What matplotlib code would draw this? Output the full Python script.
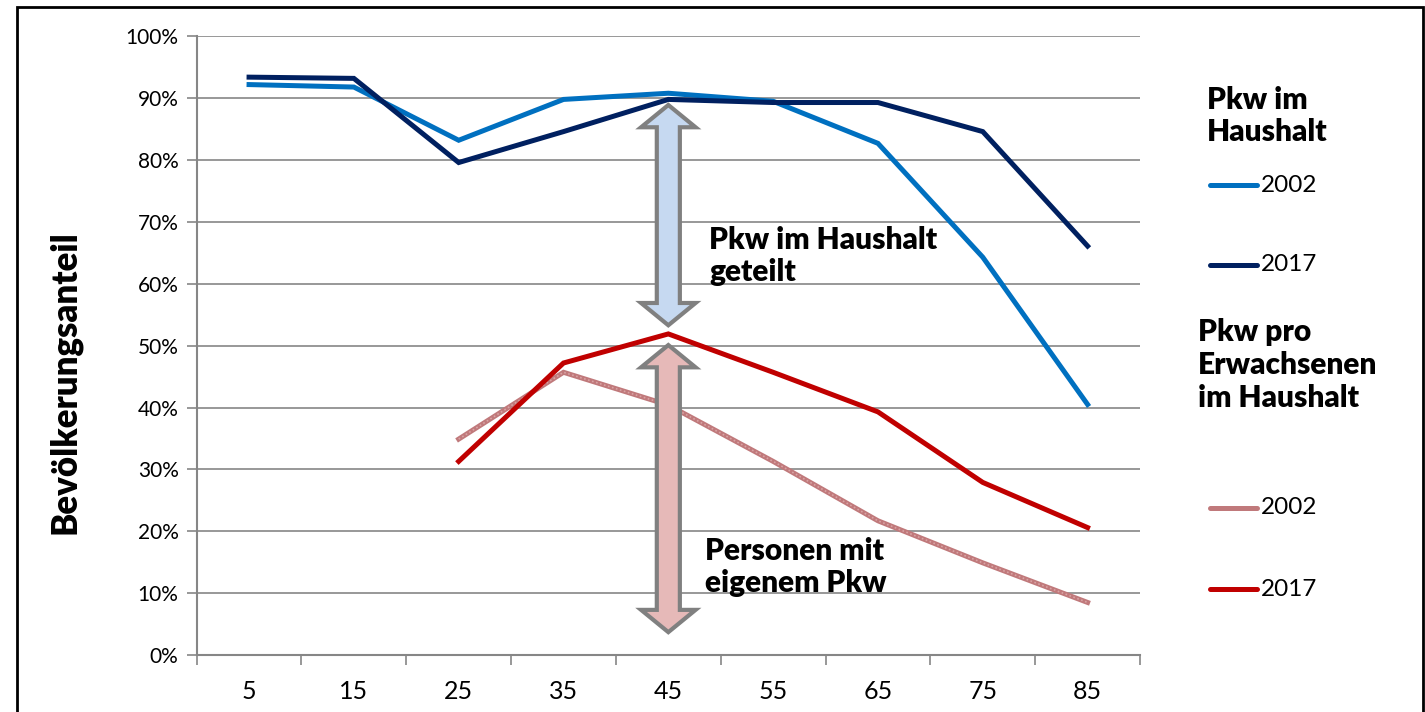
import numpy as np
import matplotlib
matplotlib.use('Agg')
import matplotlib.pyplot as plt
from matplotlib.lines import Line2D
from matplotlib.patches import Polygon, Rectangle
from matplotlib.ticker import FixedLocator, PercentFormatter

plt.rcParams['font.family'] = ['Lato', 'DejaVu Sans']

# age groups (class centres)
ages = ['5', '15', '25', '35', '45', '55', '65', '75', '85']

# Pkw im Haushalt
hh_2002 = [92.2, 91.8, 83.2, 89.8, 90.8, 89.5, 82.7, 64.3, 40.5]
hh_2017 = [93.4, 93.2, 79.6, 84.6, 89.8, 89.3, 89.3, 84.6, 66.1]
# Pkw pro Erwachsenen im Haushalt (from age 25 on)
pp_2002 = [np.nan, np.nan, 34.9, 45.7, 40.4, 31.3, 21.7, 14.9, 8.5]
pp_2017 = [np.nan, np.nan, 31.3, 47.2, 51.9, 45.7, 39.3, 27.9, 20.6]

c_hh02 = '#0070c0'
c_hh17 = '#002060'
c_pp02 = '#c0797b'
c_pp17 = '#c00000'
grid_c = '#868686'
bold = 'heavy'

fig = plt.figure(figsize=(14.25, 7.12), dpi=100)
ax = fig.add_axes([0.138, 0.080, 0.662, 0.869])

x = np.arange(len(ages))
ax.plot(x, hh_2002, color=c_hh02, lw=3.6, solid_joinstyle='miter', zorder=3)
ax.plot(x, hh_2017, color=c_hh17, lw=3.6, solid_joinstyle='miter', zorder=3)
ax.plot(x, pp_2002, color=c_pp02, lw=3.6, solid_joinstyle='miter', zorder=3)
ax.plot(x, pp_2002, color='#d9a3a4', lw=1.2, ls=(0, (1, 1.5)), zorder=3)
ax.plot(x, pp_2017, color=c_pp17, lw=3.6, solid_joinstyle='miter', zorder=3)

ax.set_xlim(-0.5, len(ages) - 0.5)
ax.set_ylim(0, 100)
ax.set_xticks(x)
ax.set_xticklabels(ages)
ax.xaxis.set_minor_locator(FixedLocator(np.arange(-0.5, len(ages), 1)))
ax.tick_params(axis='x', which='major', length=0, pad=18, labelsize=18)
ax.tick_params(axis='x', which='minor', length=7, width=1.2, color=grid_c, direction='out')
ax.set_yticks(np.arange(0, 101, 10))
ax.yaxis.set_major_formatter(PercentFormatter(decimals=0))
ax.tick_params(axis='y', length=7, width=1.2, color=grid_c, labelsize=15, pad=6)
ax.grid(axis='y', color=grid_c, lw=1.2)
ax.set_axisbelow(True)
for s in ['top', 'right']:
    ax.spines[s].set_visible(False)
for s in ['left', 'bottom']:
    ax.spines[s].set_color(grid_c)
    ax.spines[s].set_linewidth(1.5)
ax.set_ylabel('Bevölkerungsanteil', fontsize=25, fontweight=bold)
ax.yaxis.set_label_coords(-0.122, 0.441)


def double_arrow(xc, y0, y1, face):
    sw, hw, hl = 0.11, 0.26, 3.6
    pts = [(xc, y1), (xc + hw, y1 - hl), (xc + sw, y1 - hl), (xc + sw, y0 + hl),
           (xc + hw, y0 + hl), (xc, y0), (xc - hw, y0 + hl), (xc - sw, y0 + hl),
           (xc - sw, y1 - hl), (xc - hw, y1 - hl)]
    ax.add_patch(Polygon(pts, closed=True, facecolor=face, edgecolor='#808080',
                         lw=3, joinstyle='miter', zorder=4))


double_arrow(4, 53.3, 88.9, '#c6d9f1')
double_arrow(4, 3.7, 50.1, '#e6b9b8')
ax.text(4.39, 64.5, 'Pkw im Haushalt\ngeteilt', fontsize=21.5, fontweight=bold,
        va='center', ha='left', linespacing=1.2, zorder=5)
ax.text(4.35, 14.2, 'Personen mit\neigenem Pkw', fontsize=21.5, fontweight=bold,
        va='center', ha='left', linespacing=1.2, zorder=5)

# legend drawn manually at the right
W, H = 1425, 712


def fx(px):
    return px / W


def fy(py):
    return 1 - py / H


fig.text(fx(1207), fy(116), 'Pkw im\nHaushalt', fontsize=21.5, fontweight=bold,
         va='center', ha='left', linespacing=1.2)
fig.text(fx(1198), fy(365), 'Pkw pro\nErwachsenen\nim Haushalt', fontsize=21.5,
         fontweight=bold, va='center', ha='left', linespacing=1.2)
entries = [(185, c_hh02, '2002'), (265, c_hh17, '2017'),
           (508, c_pp02, '2002'), (589, c_pp17, '2017')]
for py, col, lab in entries:
    fig.add_artist(Line2D([fx(1210), fx(1257)], [fy(py), fy(py)], color=col,
                          lw=3.6, solid_capstyle='round'))
    fig.text(fx(1261), fy(py), lab, fontsize=17.5, va='center', ha='left')

fig.add_artist(Rectangle((fx(17), -0.05), fx(1423) - fx(17), fy(7) + 0.05,
                         transform=fig.transFigure, fill=False, edgecolor='black', lw=2))

fig.savefig('out.png', dpi=100)
